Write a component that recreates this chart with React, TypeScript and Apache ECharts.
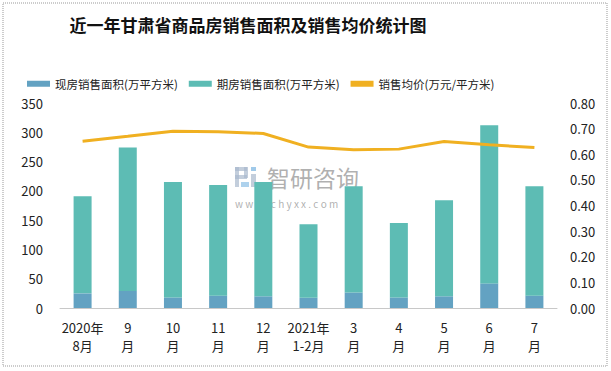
import React, { useEffect, useRef } from "react";
import * as echarts from "echarts";

const categories = ["2020年\n8月", "9\n月", "10\n月", "11\n月", "12\n月", "2021年\n1-2月", "3\n月", "4\n月", "5\n月", "6\n月", "7\n月"];
const spotArea = [25, 29, 18, 21, 20, 17.5, 26.5, 18, 20, 42, 21];
const futureArea = [166, 245, 197, 189, 195, 125.5, 181.5, 127, 164, 270, 187];
const avgPrice = [0.651, 0.67, 0.69, 0.688, 0.681, 0.628, 0.618, 0.62, 0.65, 0.637, 0.626];

const leftTicks = { min: 0, max: 350, interval: 50 };
const rightTicks = { min: 0, max: 0.8, interval: 0.1 };

const FONT = "'Noto Sans CJK SC', 'Noto Sans', sans-serif";

export default function App() {
  const ref = useRef<HTMLDivElement>(null);
  useEffect(() => {
    document.body.style.margin = "0";
    if (!ref.current) return;
    const chart = echarts.init(ref.current, undefined, { renderer: "svg" });
    chart.setOption({
      animation: false,
      backgroundColor: "#fff",
      textStyle: { fontFamily: FONT },
      title: {
        text: "近一年甘肃省商品房销售面积及销售均价统计图",
        left: 243,
        top: 11,
        textAlign: "center",
        textStyle: { fontSize: 17, fontWeight: "bold", color: "#111", fontFamily: FONT },
      },
      legend: {
        top: 73,
        left: 22,
        itemGap: 11,
        itemWidth: 23,
        itemHeight: 6,
        textStyle: { fontSize: 11.5, color: "#222", fontFamily: FONT },
        data: [
          { name: "现房销售面积(万平方米)", icon: "rect" },
          { name: "期房销售面积(万平方米)", icon: "rect" },
          { name: "销售均价(万元/平方米)", icon: "rect", itemStyle: { color: "#f0b021" } },
        ],
      },
      grid: { left: 60, right: 54, top: 103, bottom: 63, containLabel: false },
      xAxis: {
        type: "category",
        data: categories,
        axisLine: { lineStyle: { color: "#c8c8c8" } },
        axisTick: { show: false },
        axisLabel: { fontSize: 13, color: "#222", lineHeight: 18, margin: 10, interval: 0, fontFamily: FONT },
      },
      yAxis: [
        {
          type: "value",
          ...leftTicks,
          splitLine: { show: false },
          axisLine: { show: false },
          axisTick: { show: false },
          axisLabel: { fontSize: 13, color: "#222", margin: 17, fontFamily: FONT },
        },
        {
          type: "value",
          ...rightTicks,
          splitLine: { show: false },
          axisLine: { show: false },
          axisTick: { show: false },
          axisLabel: { fontSize: 13, color: "#222", margin: 13, formatter: (v: number) => v.toFixed(2), fontFamily: FONT },
        },
      ],
      series: [
        {
          name: "现房销售面积(万平方米)",
          type: "bar",
          stack: "area",
          data: spotArea,
          barWidth: 18,
          itemStyle: { color: "#63a2c2" },
        },
        {
          name: "期房销售面积(万平方米)",
          type: "bar",
          stack: "area",
          data: futureArea,
          barWidth: 18,
          itemStyle: { color: "#5dbcb4" },
        },
        {
          name: "销售均价(万元/平方米)",
          type: "line",
          yAxisIndex: 1,
          data: avgPrice,
          symbol: "none",
          lineStyle: { color: "#f0b021", width: 3 },
          itemStyle: { color: "#f0b021" },
        },
      ],
      graphic: [
        {
          type: "rect",
          shape: { x: 3, y: 3, width: 604, height: 363 },
          style: { fill: "none", stroke: "#999", lineWidth: 1, lineDash: [1, 1] },
          silent: true,
        },
        {
          type: "group",
          left: 235,
          top: 167,
          silent: true,
          children: [
            { type: "rect", shape: { x: 0, y: 0, width: 12, height: 4 }, style: { fill: "rgba(170,185,205,0.7)" } },
            { type: "rect", shape: { x: 0, y: 0, width: 4, height: 20 }, style: { fill: "rgba(170,185,205,0.7)" } },
            { type: "rect", shape: { x: 9, y: 0, width: 4, height: 11 }, style: { fill: "rgba(170,185,205,0.7)" } },
            { type: "rect", shape: { x: 0, y: 8, width: 12, height: 4 }, style: { fill: "rgba(170,185,205,0.7)" } },
            { type: "rect", shape: { x: 16, y: 0, width: 5, height: 4 }, style: { fill: "rgba(120,180,225,0.7)" } },
            { type: "rect", shape: { x: 16, y: 7, width: 5, height: 13 }, style: { fill: "rgba(170,185,205,0.7)" } },
            { type: "rect", shape: { x: 6, y: 15, width: 8, height: 5 }, style: { fill: "rgba(120,180,225,0.6)" } },
          ],
        },
        {
          type: "text",
          left: 267,
          top: 165,
          silent: true,
          style: { text: "智研咨询", fontSize: 23, lineHeight: 23, fill: "rgba(150,150,150,0.75)", fontFamily: FONT },
        },
        {
          type: "text",
          left: 235,
          top: 198,
          silent: true,
          style: { text: "w w w . c h y x x . c o m", fontSize: 10, lineHeight: 10, fill: "rgba(150,150,150,0.75)", fontFamily: FONT },
        },
      ],
    });
    return () => chart.dispose();
  }, []);
  return <div ref={ref} style={{ width: 611, height: 371 }} />;
}
